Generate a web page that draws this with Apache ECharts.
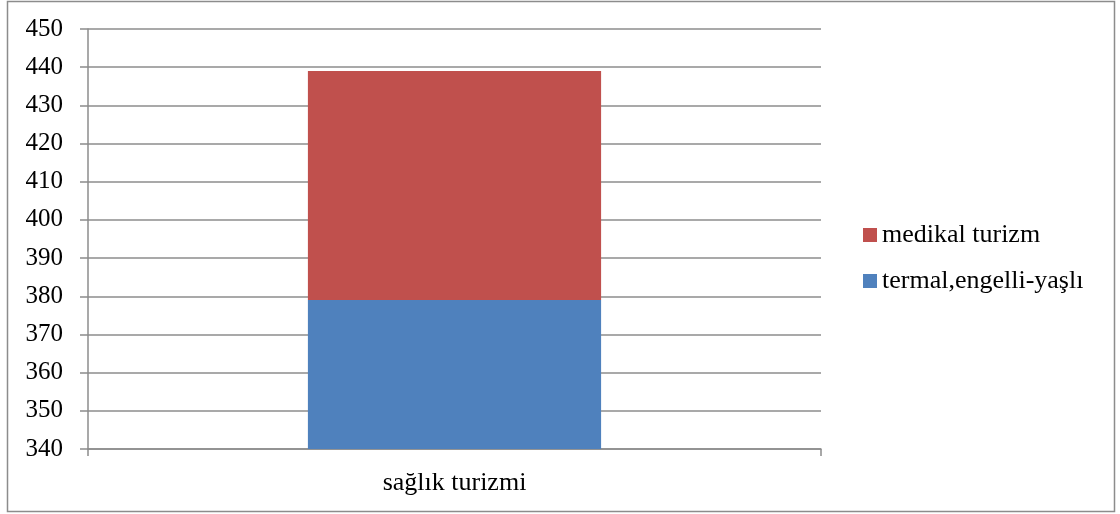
<!DOCTYPE html>
<html>
<head>
<meta charset="utf-8">
<script src="https://cdn.jsdelivr.net/npm/echarts@6/dist/echarts.min.js"></script>
<style>html,body{margin:0;padding:0;background:#fff}#c{width:1120px;height:514px}</style>
</head>
<body>
<div id="c"></div>
<script>
const categories = ['sağlık turizmi'];
const termalValues = [379];
const medikalValues = [60];
const seriesNames = ['termal,engelli-yaşlı', 'medikal turizm'];

const chart = echarts.init(document.getElementById('c'));
const font = 'Liberation Serif';
chart.setOption({
  animation: false,
  backgroundColor: '#fff',
  grid: { left: 88, right: 299, top: 29, bottom: 65 },
  graphic: [{
    type: 'rect', shape: { x: 7.5, y: 1.5, width: 1107, height: 510 },
    style: { fill: 'none', stroke: '#8c8c8c', lineWidth: 1.5 }, silent: true
  }],
  legend: {
    data: [seriesNames[1], seriesNames[0]],
    orient: 'vertical', left: 858, top: 217,
    itemWidth: 14, itemHeight: 14, itemGap: 20,
    icon: 'rect',
    textStyle: { fontFamily: font, fontSize: 26, color: '#000' }
  },
  xAxis: {
    type: 'category', data: categories,
    axisLine: { lineStyle: { color: '#8c8c8c', width: 1.5 } },
    axisTick: { show: true, length: 7, lineStyle: { color: '#8c8c8c', width: 1.5 } },
    axisLabel: { fontFamily: font, fontSize: 26, color: '#000', margin: 21 }
  },
  yAxis: {
    type: 'value', min: 340, max: 450, interval: 10,
    axisLine: { show: true, lineStyle: { color: '#8c8c8c', width: 1.5 } },
    axisTick: { show: true, length: 8, lineStyle: { color: '#8c8c8c', width: 1.5 } },
    axisLabel: { fontFamily: font, fontSize: 25, color: '#000', margin: 25 },
    splitLine: { lineStyle: { color: '#8c8c8c', width: 1.5 } }
  },
  series: [
    { name: seriesNames[0], type: 'bar', stack: 's', data: termalValues, barWidth: '40%', itemStyle: { color: '#4f81bd' } },
    { name: seriesNames[1], type: 'bar', stack: 's', data: medikalValues, barWidth: '40%', itemStyle: { color: '#c0504d' } }
  ]
});
</script>
</body>
</html>
